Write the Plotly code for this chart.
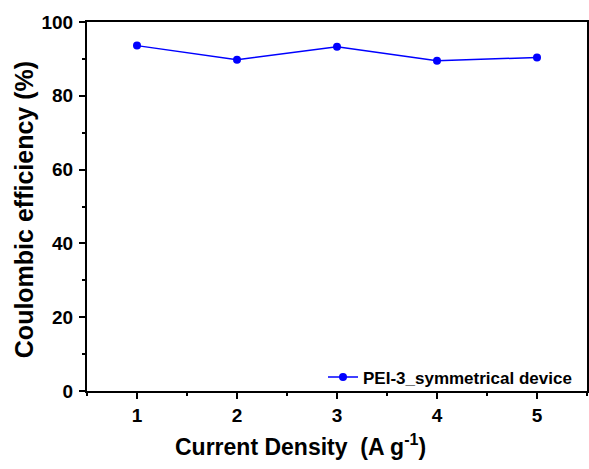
import plotly.graph_objects as go

current_density = [1, 2, 3, 4, 5]
coulombic_eff = [93.6, 89.8, 93.3, 89.5, 90.4]
series_name = "PEI-3_symmetrical device"
x_ticks = [1, 2, 3, 4, 5]
y_ticks = [0, 20, 40, 60, 80, 100]
x_title = "<b>Current Density  (A g<sup>-1</sup>)</b>"
y_title = "<b>Coulombic efficiency (%)</b>"

font_family = "Liberation Sans, Arial, sans-serif"

fig = go.Figure()
fig.add_trace(go.Scatter(
    x=current_density, y=coulombic_eff, mode="lines+markers", name=series_name,
    line=dict(color="#0000ff", width=1.5),
    marker=dict(color="#0000ff", size=8),
))

axis_common = dict(
    showline=True, linecolor="black", linewidth=2, mirror=True,
    ticks="outside", ticklen=6, tickwidth=2, tickcolor="black",
    showgrid=False, zeroline=False, automargin=False,
    tickfont=dict(family=font_family, size=19, color="black", weight="bold"),
)

fig.update_layout(
    width=589, height=469,
    margin=dict(l=87, r=2, t=22, b=78),
    paper_bgcolor="white", plot_bgcolor="white",
    font=dict(family=font_family, color="black"),
    xaxis=dict(range=[0.5, 5.5], tickvals=x_ticks, ticktext=[str(v) for v in x_ticks],
               minor=dict(ticks="outside", ticklen=3, tickwidth=1.5, tickcolor="black", dtick=0.5),
               **axis_common),
    yaxis=dict(range=[0, 100], tickvals=y_ticks, ticktext=[str(v) for v in y_ticks],
               ticklabelstandoff=2,
               minor=dict(ticks="outside", ticklen=3, tickwidth=1.5, tickcolor="black", dtick=10),
               **axis_common),
    legend=dict(x=0.98, y=-0.012, xanchor="right", yanchor="bottom",
                bgcolor="rgba(0,0,0,0)", borderwidth=0,
                font=dict(size=17, weight="bold", color="black")),
    showlegend=True,
    annotations=[
        dict(text=x_title, xref="paper", yref="paper", x=0.426, y=-0.146,
             xanchor="center", yanchor="middle", showarrow=False,
             font=dict(size=23, color="black", family=font_family)),
        dict(text=y_title, xref="paper", yref="paper", x=-0.126, y=0.49,
             xanchor="center", yanchor="middle", showarrow=False, textangle=-90,
             font=dict(size=25, color="black", family=font_family)),
    ],
)

fig.write_html("out.html", config={"displayModeBar": False},
               post_script="document.body.style.margin='0';")
